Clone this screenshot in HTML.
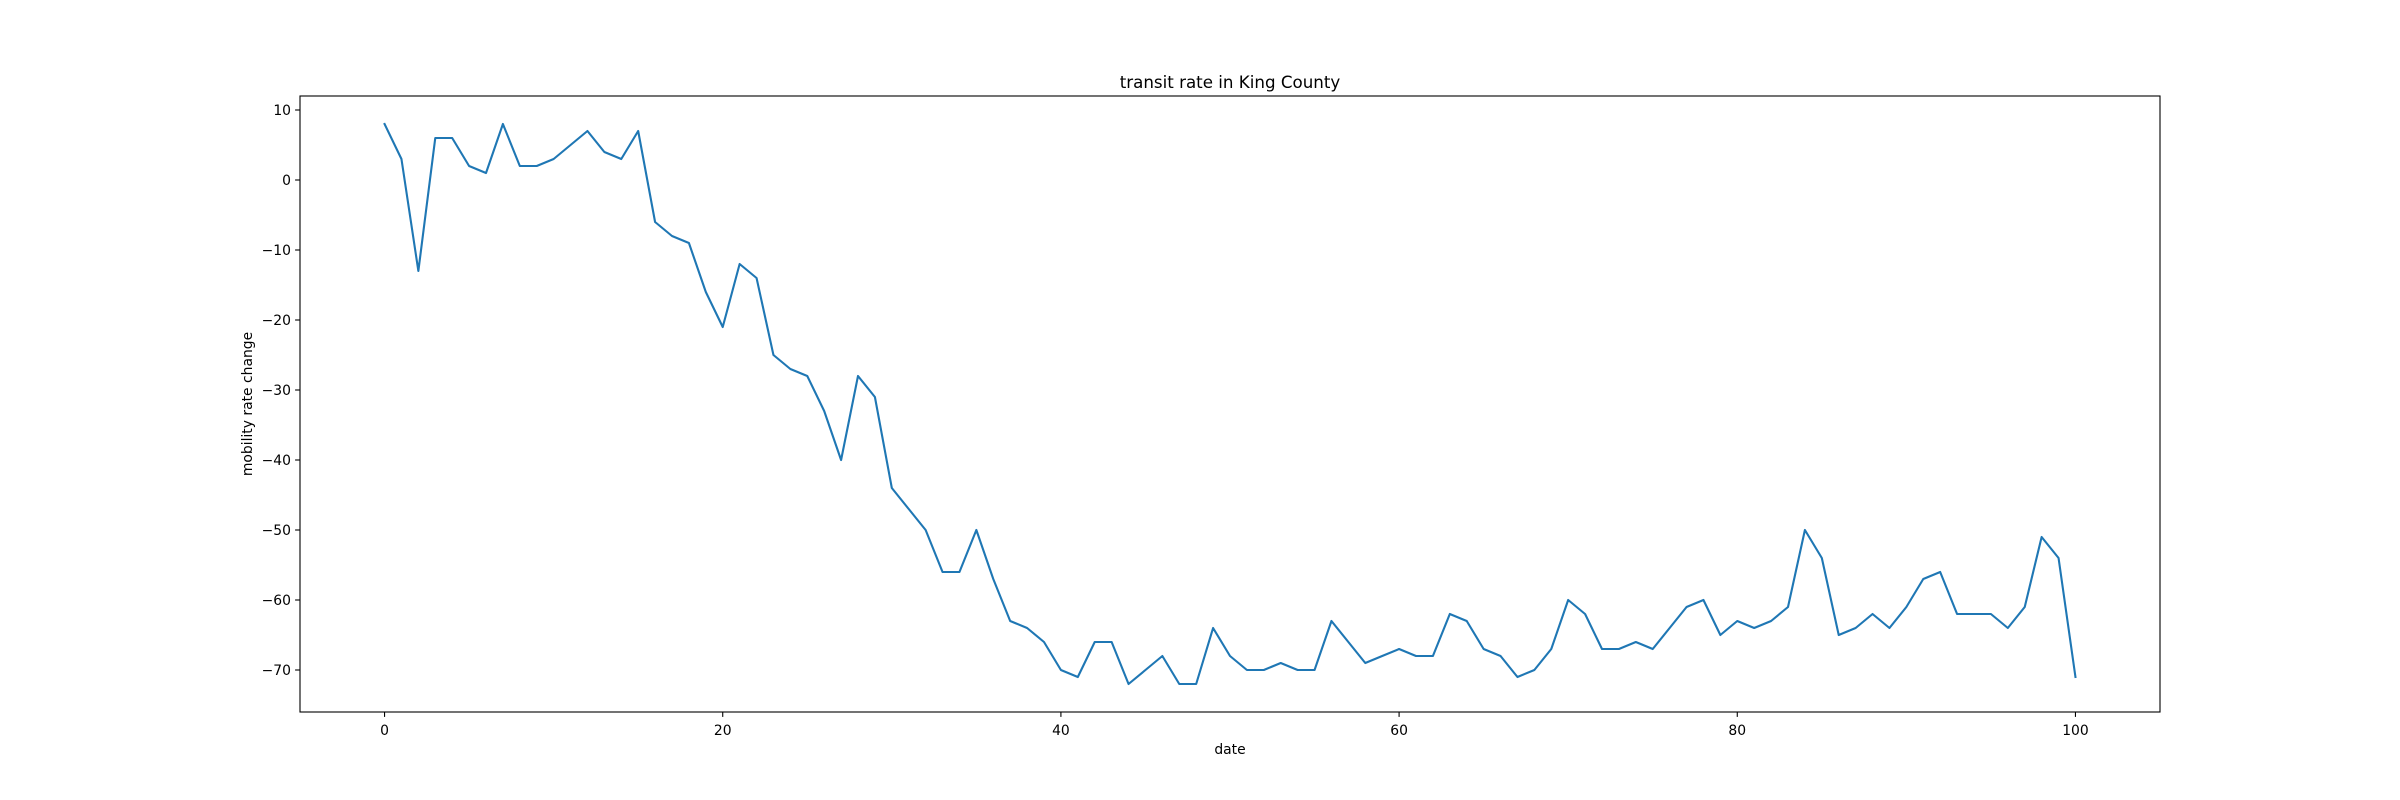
<!DOCTYPE html>
<html><head><meta charset="utf-8"><style>
html,body{margin:0;padding:0;background:#fff;}
svg{display:block;font-family:"DejaVu Sans","Liberation Sans",sans-serif;}
</style></head><body>
<svg id="chart" width="2400" height="800" viewBox="0 0 2400 800" xmlns="http://www.w3.org/2000/svg">
<rect width="2400" height="800" fill="#fff"/>
<text x="1230" y="88" font-size="16.7" text-anchor="middle" fill="#000">transit rate in King County</text>
<g id="yticks"></g>
<g id="xticks"></g>
<path id="series" fill="none" stroke="#1f77b4" stroke-width="2.1" stroke-linejoin="round" stroke-linecap="square"/>
<rect x="300" y="96" width="1860" height="616" fill="none" stroke="#000" stroke-width="1.1"/>
<text x="1230" y="754" font-size="13.9" text-anchor="middle" fill="#000">date</text>
<text transform="translate(252,404) rotate(-90)" font-size="13.9" text-anchor="middle" fill="#000">mobility rate change</text>
</svg>
<script>
const values = [8,3,-13,6,6,2,1,8,2,2,3,5,7,4,3,7,-6,-8,-9,-16,-21,-12,-14,-25,-27,-28,-33,-40,-28,-31,-44,-47,-50,-56,-56,-50,-57,-63,-64,-66,-70,-71,-66,-66,-72,-70,-68,-72,-72,-64,-68,-70,-70,-69,-70,-70,-63,-66,-69,-68,-67,-68,-68,-62,-63,-67,-68,-71,-70,-67,-60,-62,-67,-67,-66,-67,-64,-61,-60,-65,-63,-64,-63,-61,-50,-54,-65,-64,-62,-64,-61,-57,-56,-62,-62,-62,-64,-61,-51,-54,-71];
const xTicks = [0,20,40,60,80,100];
const yTicks = [10,0,-10,-20,-30,-40,-50,-60,-70];

const L=300,R=2160,T=96,B=712;
const n=values.length-1;
const xMin=-0.05*n, xMax=n*1.05;
const vMin=Math.min(...values), vMax=Math.max(...values), pad=(vMax-vMin)*0.05;
const yMin=vMin-pad, yMax=vMax+pad;
const sx=v=>L+(v-xMin)/(xMax-xMin)*(R-L);
const sy=v=>B-(v-yMin)/(yMax-yMin)*(B-T);
const NS="http://www.w3.org/2000/svg";

document.getElementById('series').setAttribute('d', values.map((v,i)=>(i?'L':'M')+sx(i).toFixed(2)+','+sy(v).toFixed(2)).join(''));

const yg=document.getElementById('yticks');
yTicks.forEach(t=>{
  const y=sy(t);
  const ln=document.createElementNS(NS,'line');
  ln.setAttribute('x1',L-4.9);ln.setAttribute('x2',L);ln.setAttribute('y1',y);ln.setAttribute('y2',y);
  ln.setAttribute('stroke','#000');ln.setAttribute('stroke-width','1.1');
  
  
  yg.appendChild(ln);
  const tx=document.createElementNS(NS,'text');
  tx.setAttribute('x',L-9);tx.setAttribute('y',y+5);tx.setAttribute('text-anchor','end');
  tx.setAttribute('font-size','13.9');
  tx.textContent=(t<0?'\u2212'+(-t):String(t));
  
  
  yg.appendChild(tx);
});
const xg=document.getElementById('xticks');
xTicks.forEach(t=>{
  const x=sx(t);
  const ln=document.createElementNS(NS,'line');
  ln.setAttribute('x1',x);ln.setAttribute('x2',x);ln.setAttribute('y1',B);ln.setAttribute('y2',B+4.9);
  ln.setAttribute('stroke','#000');ln.setAttribute('stroke-width','1.1');
  
  
  xg.appendChild(ln);
  const tx=document.createElementNS(NS,'text');
  tx.setAttribute('x',x);tx.setAttribute('y',B+23);tx.setAttribute('text-anchor','middle');
  tx.setAttribute('font-size','13.9');
  tx.textContent=String(t);
  
  
  xg.appendChild(tx);
});
</script>
</body></html>
